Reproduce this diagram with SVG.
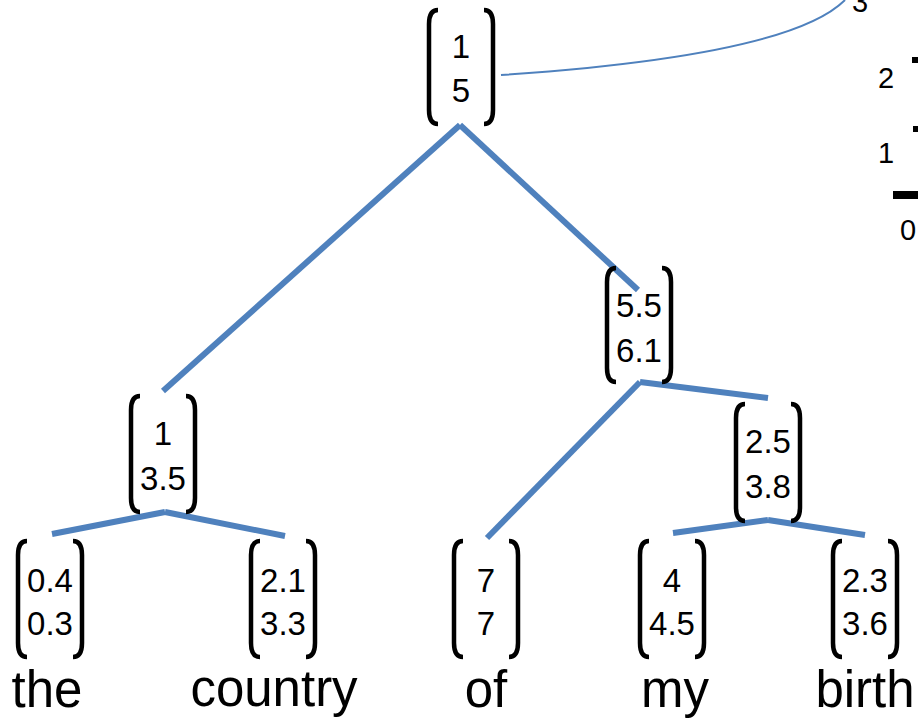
<svg xmlns="http://www.w3.org/2000/svg" width="918" height="720" viewBox="0 0 918 720">
<style>
.br{fill:none;stroke:#000;stroke-width:4.5;stroke-linecap:butt}
.v{font-family:"Liberation Sans",Arial,sans-serif;font-size:33px;fill:#000;text-anchor:middle}
.w{font-family:"Liberation Sans",Arial,sans-serif;font-size:51px;fill:#000;text-anchor:middle}
.ax{font-family:"Liberation Sans",Arial,sans-serif;font-size:29px;fill:#000;text-anchor:middle}
.e{stroke:#4f81bd;stroke-width:6;fill:none}
</style>
<rect width="918" height="720" fill="#fff"/>
<g id="connectors">
<path class="e" d="M460,125 L163,391"/>
<path class="e" d="M460,125 L638,290"/>
<path class="e" d="M640,382 L487,538"/>
<path class="e" d="M640,382 L768,398"/>
<path class="e" d="M165,512 L52,534"/>
<path class="e" d="M165,512 L285,536"/>
<path class="e" d="M768,520 L673,533"/>
<path class="e" d="M768,520 L865,535"/>
<path d="M501,75 C650,65 800,45 845,0" fill="none" stroke="#4f81bd" stroke-width="2"/>
</g>
<g id="root">
<path class="br" d="M438,10 Q429,10 429,24 L429,110 Q429,124 438,124"/>
<path class="br" d="M484,10 Q493,10 493,24 L493,110 Q493,124 484,124"/>
<text class="v" x="461" y="58">1</text>
<text class="v" x="461" y="102">5</text>
</g>
<g id="n55">
<path class="br" d="M616,268 Q607,268 607,282 L607,368 Q607,382 616,382"/>
<path class="br" d="M662,268 Q671,268 671,282 L671,368 Q671,382 662,382"/>
<text class="v" x="639" y="317">5.5</text>
<text class="v" x="639" y="362">6.1</text>
</g>
<g id="n135">
<path class="br" d="M140,396 Q131,396 131,410 L131,498 Q131,512 140,512"/>
<path class="br" d="M186,396 Q195,396 195,410 L195,498 Q195,512 186,512"/>
<text class="v" x="163" y="445">1</text>
<text class="v" x="163" y="490">3.5</text>
</g>
<g id="n25">
<path class="br" d="M745,404 Q736,404 736,418 L736,507 Q736,521 745,521"/>
<path class="br" d="M791,404 Q800,404 800,418 L800,507 Q800,521 791,521"/>
<text class="v" x="768" y="453">2.5</text>
<text class="v" x="768" y="498">3.8</text>
</g>
<g id="leaf-the">
<path class="br" d="M27,541 Q18,541 18,555 L18,643 Q18,657 27,657"/>
<path class="br" d="M73,541 Q82,541 82,555 L82,643 Q82,657 73,657"/>
<text class="v" x="50" y="592">0.4</text>
<text class="v" x="50" y="635">0.3</text>
<text class="w" x="47" y="707">the</text>
</g>
<g id="leaf-country">
<path class="br" d="M260,541 Q251,541 251,555 L251,643 Q251,657 260,657"/>
<path class="br" d="M306,541 Q315,541 315,555 L315,643 Q315,657 306,657"/>
<text class="v" x="283" y="592">2.1</text>
<text class="v" x="283" y="635">3.3</text>
<text class="w" x="274" y="706">country</text>
</g>
<g id="leaf-of">
<path class="br" d="M463,541 Q454,541 454,555 L454,643 Q454,657 463,657"/>
<path class="br" d="M509,541 Q518,541 518,555 L518,643 Q518,657 509,657"/>
<text class="v" x="486" y="592">7</text>
<text class="v" x="486" y="635">7</text>
<text class="w" x="486" y="707">of</text>
</g>
<g id="leaf-my">
<path class="br" d="M649,541 Q640,541 640,555 L640,643 Q640,657 649,657"/>
<path class="br" d="M695,541 Q704,541 704,555 L704,643 Q704,657 695,657"/>
<text class="v" x="672" y="592">4</text>
<text class="v" x="672" y="635">4.5</text>
<text class="w" x="675" y="707">my</text>
</g>
<g id="leaf-birth">
<path class="br" d="M842,541 Q833,541 833,555 L833,643 Q833,657 842,657"/>
<path class="br" d="M888,541 Q897,541 897,555 L897,643 Q897,657 888,657"/>
<text class="v" x="865" y="592">2.3</text>
<text class="v" x="865" y="635">3.6</text>
<text class="w" x="865" y="707">birth</text>
</g>
<g id="axis">
<text class="ax" x="860" y="12">3</text>
<text class="ax" x="886" y="88">2</text>
<text class="ax" x="886" y="163">1</text>
<text class="ax" x="908" y="240">0</text>
<rect x="912" y="57" width="6" height="6" fill="#000"/>
<rect x="913" y="126" width="5" height="6" fill="#000"/>
<rect x="893" y="191" width="25" height="8" fill="#000"/>
</g>
</svg>
